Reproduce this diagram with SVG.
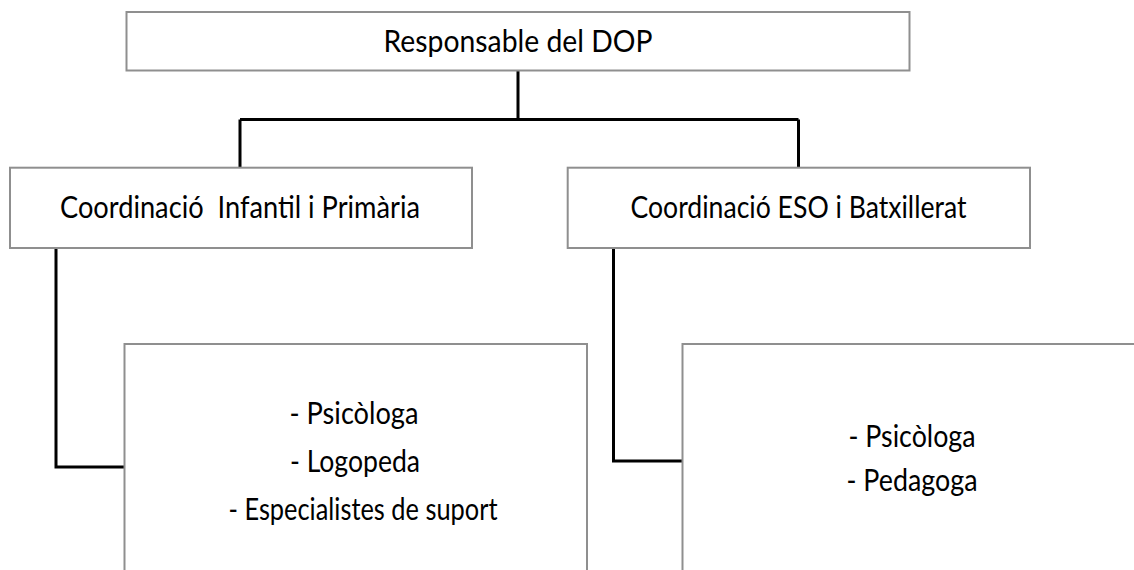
<svg xmlns="http://www.w3.org/2000/svg" width="1134" height="570" viewBox="0 0 1134 570">
<style>
.box{fill:#fff;stroke:#8f8f8f;stroke-width:2}
.conn{fill:none;stroke:#000;stroke-width:3}
.t{font-family:Lato,"Open Sans","Liberation Sans",sans-serif;font-size:30px;fill:#000;text-anchor:middle}
</style>
<rect width="1134" height="570" fill="#fff"/>
<g id="connectors">
<path class="conn" d="M518 70.5V119.5M240 119.5H798.5M240 119.5V167.7M798.5 119.5V167.7"/>
<path class="conn" d="M56 248V467H124.5"/>
<path class="conn" d="M613.5 248V461H682.5"/>
</g>
<g id="n-dop">
<rect class="box" x="126.5" y="12" width="783" height="58.5"/>
<text class="t" x="518" y="52" textLength="269" lengthAdjust="spacingAndGlyphs">Responsable del DOP</text>
</g>
<g id="n-infantil">
<rect class="box" x="10" y="167.7" width="462" height="80.3"/>
<text class="t" x="240" y="218" textLength="360" lengthAdjust="spacingAndGlyphs" xml:space="preserve">Coordinació  Infantil i Primària</text>
</g>
<g id="n-eso">
<rect class="box" x="567.7" y="167.7" width="462.3" height="80.3"/>
<text class="t" x="798.5" y="218" textLength="336" lengthAdjust="spacingAndGlyphs">Coordinació ESO i Batxillerat</text>
</g>
<g id="n-suport-primaria">
<rect class="box" x="124.5" y="344" width="462.5" height="240"/>
<text class="t" x="354" y="424" textLength="129" lengthAdjust="spacingAndGlyphs">- Psicòloga</text>
<text class="t" x="355" y="472" textLength="130" lengthAdjust="spacingAndGlyphs">- Logopeda</text>
<text class="t" x="363" y="520" textLength="269" lengthAdjust="spacingAndGlyphs">- Especialistes de suport</text>
</g>
<g id="n-suport-eso">
<rect class="box" x="682.5" y="344" width="470" height="240"/>
<text class="t" x="912" y="447" textLength="127" lengthAdjust="spacingAndGlyphs">- Psicòloga</text>
<text class="t" x="912" y="491" textLength="131" lengthAdjust="spacingAndGlyphs">- Pedagoga</text>
</g>
</svg>
